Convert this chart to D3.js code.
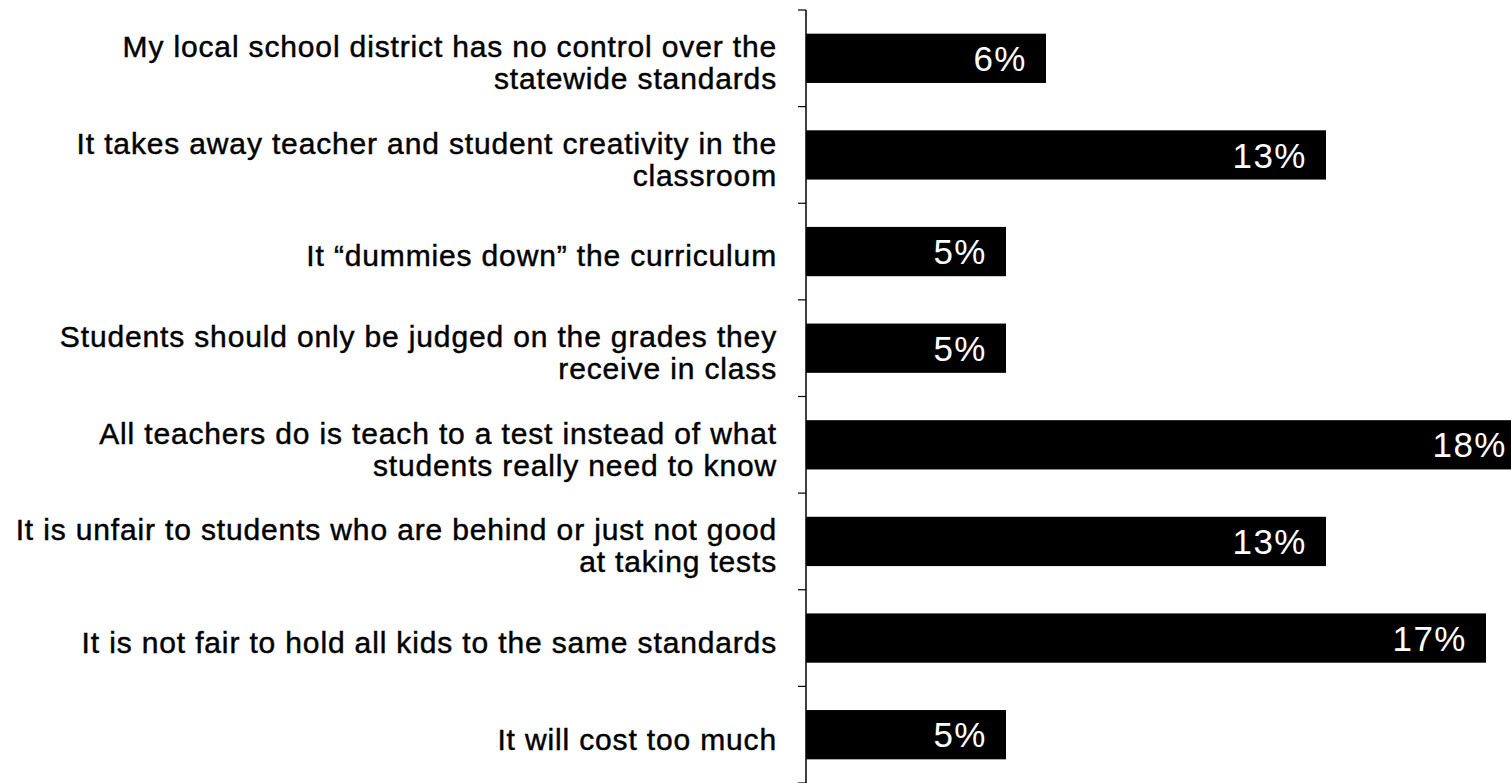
<!DOCTYPE html>
<html>
<head>
<meta charset="utf-8">
<script src="https://cdn.jsdelivr.net/npm/d3@7"></script>
<style>
  html, body { margin: 0; padding: 0; background: #fff; overflow: hidden; }
  svg { display: block; }
</style>
</head>
<body>
<svg id="chart" width="1511" height="783"></svg>
<script>
// Reasons given for opposing statewide standards (share of respondents, %)
const categories = [
  ["My local school district has no control over the", "statewide standards"],
  ["It takes away teacher and student creativity in the", "classroom"],
  ["It \u201cdummies down\u201d the curriculum"],
  ["Students should only be judged on the grades they", "receive in class"],
  ["All teachers do is teach to a test instead of what", "students really need to know"],
  ["It is unfair to students who are behind or just not good", "at taking tests"],
  ["It is not fair to hold all kids to the same standards"],
  ["It will cost too much"]
];
const values = [6, 13, 5, 5, 18, 13, 17, 5];
const valueLabels = ["6%", "13%", "5%", "5%", "18%", "13%", "17%", "5%"];

const svg = d3.select("#chart");
const axisX = 806;
const plotTop = 10, plotBottom = 783;

const y = d3.scaleBand()
  .domain(d3.range(categories.length))
  .range([plotTop, plotBottom])
  .paddingInner(0.49)
  .paddingOuter(0.245);

const x = d3.scaleLinear()
  .domain([0, 1])
  .range([axisX, axisX + 40]);

// category boundaries for the tick marks
const yEdges = d3.scaleLinear().domain([0, categories.length]).range([plotTop, plotBottom]);

// bars
svg.append("g").selectAll("rect")
  .data(values)
  .join("rect")
  .attr("x", x(0))
  .attr("y", (d, i) => y(i))
  .attr("width", d => x(d) - x(0))
  .attr("height", y.bandwidth())
  .attr("fill", "#000");

// value labels inside the bar ends
svg.append("g").selectAll("text")
  .data(values)
  .join("text")
  .attr("x", d => x(d) - 19)
  .attr("y", (d, i) => y(i) + y.bandwidth() / 2)
  .attr("dy", "0.36em")
  .attr("text-anchor", "end")
  .attr("fill", "#fff")
  .style("font-family", "'Liberation Sans', Arial, sans-serif")
  .style("font-size", "35px")
  .style("letter-spacing", "1.5px")
  .text((d, i) => valueLabels[i]);

// vertical category axis with tick marks between categories
const axis = svg.append("g");
axis.append("line")
  .attr("x1", axisX).attr("x2", axisX)
  .attr("y1", plotTop).attr("y2", plotBottom)
  .attr("stroke", "#000").attr("stroke-width", 1.5);
axis.selectAll("line.tick")
  .data(d3.range(categories.length + 1))
  .join("line")
  .attr("class", "tick")
  .attr("x1", axisX - 8).attr("x2", axisX)
  .attr("y1", d => yEdges(d)).attr("y2", d => yEdges(d))
  .attr("stroke", "#000").attr("stroke-width", 1.2);

// category labels, right aligned, wrapped on two lines where needed
const lineH = 32;
const labels = svg.append("g")
  .style("font-family", "'Liberation Sans', Arial, sans-serif")
  .style("font-size", "30px")
  .style("letter-spacing", "0.85px")
  .attr("fill", "#000")
  .attr("stroke", "#000")
  .attr("stroke-width", 0.45)
  .attr("text-anchor", "end");

labels.selectAll("text")
  .data(categories)
  .join("text")
  .attr("transform", (d, i) => `translate(777,${y(i) + y.bandwidth() / 2 + 4})`)
  .each(function(lines) {
    const t = d3.select(this);
    const n = lines.length;
    lines.forEach((s, k) => {
      t.append("tspan")
        .attr("x", 0)
        .attr("y", (k - (n - 1) / 2) * lineH)
        .attr("dy", "0.36em")
        .text(s);
    });
  });
</script>
</body>
</html>
